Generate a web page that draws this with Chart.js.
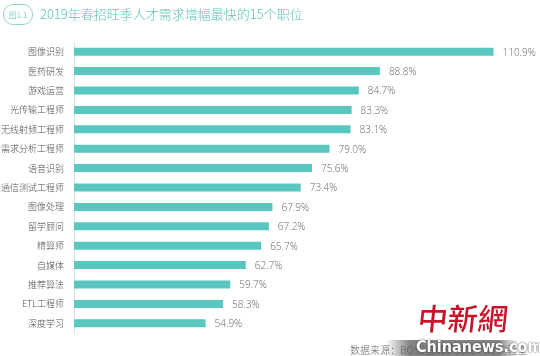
<!DOCTYPE html>
<html>
<head>
<meta charset="utf-8">
<script src="https://cdn.jsdelivr.net/npm/chart.js@4/dist/chart.umd.min.js"></script>
<style>
  html, body { margin:0; padding:0; background:#fff; }
  #wrap { position:relative; width:540px; height:356px; overflow:hidden; font-family:"Noto Sans CJK SC","Liberation Sans",sans-serif; }
  #c { position:absolute; left:0; top:0; }
  #badge { position:absolute; left:3px; top:4px; width:28px; height:19px; border:1px solid #8fd3ce; border-radius:10px; color:#5cc3bc; font-size:8px; line-height:19px; text-align:center; font-family:"Noto Sans CJK SC",sans-serif; font-weight:300; }
  #title { position:absolute; left:40px; top:4px; color:#5cc3bc; font-size:13px; line-height:20px; font-family:"Noto Sans CJK SC",sans-serif; font-weight:300; white-space:nowrap; }
  #src { position:absolute; left:350px; top:343px; color:#666; font-size:10px; line-height:14px; white-space:nowrap; font-family:"Noto Sans CJK SC",sans-serif; font-weight:300; }
  #wmband { position:absolute; left:386px; top:340px; width:132px; height:16px; background:linear-gradient(90deg, rgba(90,90,90,0) 0%, rgba(90,90,90,0.75) 18%, rgba(90,90,90,0.75) 85%, rgba(90,90,90,0) 100%); }
  #wmtext { position:absolute; left:416px; top:337px; color:#fff; font-size:16px; font-weight:bold; line-height:20px; font-family:"Liberation Sans Narrow","DejaVu Sans Condensed",sans-serif; text-shadow:0 0 2px #333; white-space:nowrap; }
  #wmcn { position:absolute; left:418px; top:298px; color:#c8142a; font-size:30px; font-weight:500; line-height:38px; font-family:"Noto Sans CJK TC",sans-serif; transform:skewX(-6deg); white-space:nowrap; }
</style>
</head>
<body>
<div id="wrap">
  <canvas id="c" width="540" height="356"></canvas>
  <div id="badge">图1.1</div>
  <div id="title">2019年春招旺季人才需求增幅最快的15个职位</div>
  <div id="src">数据来源：BOSS直聘研究院 人才实验室</div>
  <div id="wmband"></div>
  <div id="wmtext">Chinanews.com</div>
  <div id="wmcn">中新網</div>
</div>
<script>
const categories = ["图像识别","医药研发","游戏运营","光传输工程师","无线射频工程师","需求分析工程师","语音识别","通信测试工程师","图像处理","留学顾问","精算师","自媒体","推荐算法","ETL工程师","深度学习"];
const growthValues = [110.9, 88.8, 84.7, 83.3, 83.1, 79.0, 75.6, 73.4, 67.9, 67.2, 65.7, 62.7, 59.7, 58.3, 54.9];
const valueLabels = ["110.9%","88.8%","84.7%","83.3%","83.1%","79.0%","75.6%","73.4%","67.9%","67.2%","65.7%","62.7%","59.7%","58.3%","54.9%"];

const valueLabelPlugin = {
  id: 'valueLabels',
  afterDatasetsDraw(chart) {
    const ctx = chart.ctx;
    const meta = chart.getDatasetMeta(0);
    ctx.save();
    ctx.font = '300 10px "Open Sans", "Liberation Sans", Arial, sans-serif';
    ctx.fillStyle = '#6a6a6a';
    ctx.textAlign = 'left';
    ctx.textBaseline = 'middle';
    meta.data.forEach((el, i) => {
      ctx.fillText(valueLabels[i], el.x + 9, el.y + 1);
    });
    ctx.restore();
  }
};

new Chart(document.getElementById('c'), {
  type: 'bar',
  data: {
    labels: categories,
    datasets: [{
      data: growthValues,
      backgroundColor: '#58c7c0',
      borderWidth: 0,
      barPercentage: 0.41,
      categoryPercentage: 1
    }]
  },
  options: {
    indexAxis: 'y',
    responsive: false,
    animation: false,
    devicePixelRatio: 1,
    layout: { padding: { left: 0, top: 42, right: 10, bottom: 23 } },
    plugins: { legend: { display: false }, tooltip: { enabled: false }, title: { display: false } },
    scales: {
      x: { display: false, min: 29.3, max: 118 },
      y: {
        afterFit(scale) { scale.width = 74; },
        grid: { display: false, drawTicks: false },
        border: { display: true, color: '#cfe7e5', width: 1 },
        ticks: {
          color: '#505050',
          padding: 10,
          font: { size: 9, weight: '300', family: '"Noto Sans CJK SC", sans-serif' }
        }
      }
    }
  },
  plugins: [valueLabelPlugin]
});
</script>
</body>
</html>
